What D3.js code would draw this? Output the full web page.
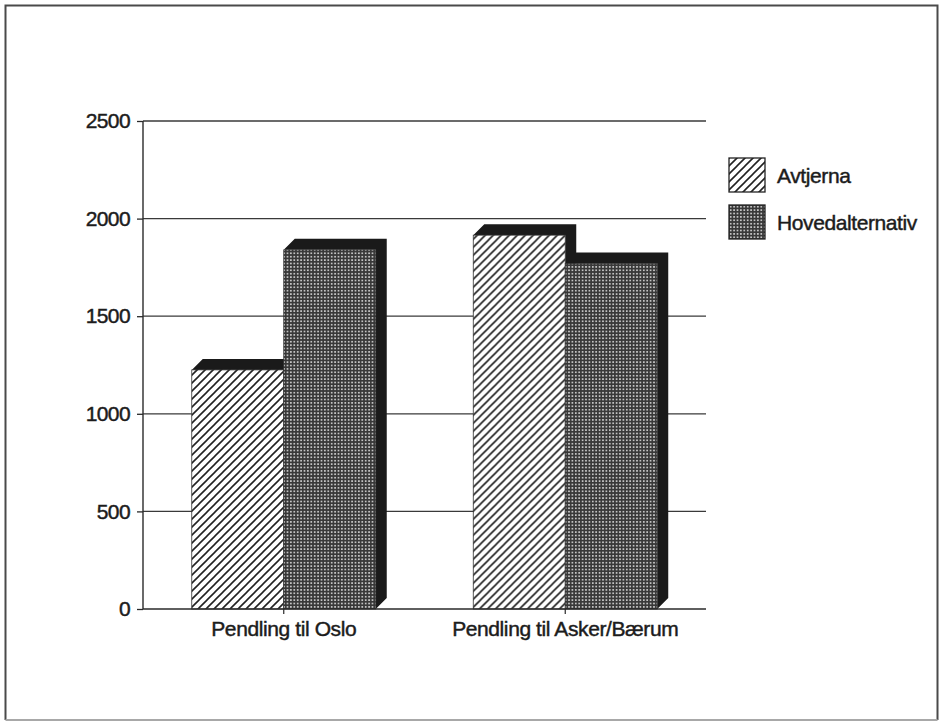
<!DOCTYPE html>
<html>
<head>
<meta charset="utf-8">
<script src="https://cdn.jsdelivr.net/npm/d3@7"></script>
<style>
  html, body { margin: 0; padding: 0; background: #fff; }
  svg { display: block; }
  text { font-family: "Liberation Sans", Arial, Helvetica, sans-serif; fill: #1c1c1c; stroke: #1c1c1c; stroke-width: 0.45px; }
</style>
</head>
<body>
<svg id="chart" width="939" height="724"></svg>
<script>
// Commuting volumes for two planning alternatives
const categories = ["Pendling til Oslo", "Pendling til Asker/Bærum"];
const seriesNames = ["Avtjerna", "Hovedalternativ"];
const avtjerna = [1225, 1915];
const hovedalternativ = [1840, 1770];
const yTicks = [0, 500, 1000, 1500, 2000, 2500];

const seriesValues = [avtjerna, hovedalternativ];

const svg = d3.select("#chart");
const W = 939, H = 724;

const plot = { left: 143, right: 706, top: 121, bottom: 609 };
const depth = 11;      // 3D shadow offset
const ink = "#1a1a1a";
const fontSize = 21;

// Patterns: diagonal hatch and fine halftone dots
const defs = svg.append("defs");
const hatch = defs.append("pattern")
  .attr("id", "hatch").attr("patternUnits", "userSpaceOnUse")
  .attr("width", 8).attr("height", 8);
hatch.append("rect").attr("width", 8).attr("height", 8).attr("fill", "#fff");
hatch.append("path")
  .attr("d", "M-2,2 L2,-2 M0,8 L8,0 M6,10 L10,6")
  .attr("stroke", "#222").attr("stroke-width", 1.6);

const dots = defs.append("pattern")
  .attr("id", "dots").attr("patternUnits", "userSpaceOnUse")
  .attr("width", 3.4).attr("height", 3.4);
dots.append("rect").attr("width", 3.4).attr("height", 3.4).attr("fill", "#383838");
dots.append("circle").attr("cx", 1.7).attr("cy", 1.7).attr("r", 0.95).attr("fill", "#e2e2e2");

const fills = ["url(#hatch)", "url(#dots)"];

// Outer frame
svg.append("path")
  .attr("d", `M5.5,${H - 4} V5.5 H${W - 1.5} V${H - 4}`)
  .attr("fill", "none").attr("stroke", "#4a4a4a").attr("stroke-width", 2);
svg.append("line")
  .attr("x1", 5.5).attr("x2", W - 1.5).attr("y1", H - 4).attr("y2", H - 4)
  .attr("stroke", "#a8a8a8").attr("stroke-width", 2);

// Scales
const x0 = d3.scaleBand().domain(categories).range([plot.left, plot.right]).padding(0);
const x1 = d3.scaleBand().domain(seriesNames).range([0, x0.bandwidth()])
  .paddingInner(0).paddingOuter(0.53);
const y = d3.scaleLinear().domain([0, 2500]).range([plot.bottom, plot.top]);

// Gridlines
svg.append("g").selectAll("line").data(yTicks.filter(d => d > 0)).join("line")
  .attr("x1", plot.left).attr("x2", plot.right)
  .attr("y1", d => y(d)).attr("y2", d => y(d))
  .attr("stroke", "#3a3a3a").attr("stroke-width", 1.3);

// Y axis
const yAxis = svg.append("g").attr("transform", `translate(${plot.left},0)`)
  .call(d3.axisLeft(y).tickValues(yTicks).tickSize(6).tickPadding(7).tickFormat(d3.format("d")));
yAxis.select(".domain").attr("stroke", "#2a2a2a").attr("stroke-width", 1.4).attr("d", `M0,${plot.top}V${plot.bottom}`);
yAxis.selectAll(".tick line").attr("stroke", "#2a2a2a").attr("stroke-width", 1.3);
yAxis.selectAll(".tick text")
  .attr("font-size", fontSize).attr("fill", "#1c1c1c").style("letter-spacing", "-0.6px")
  .attr("font-family", "Liberation Sans, Arial, sans-serif");

// Bars with 3D shadow
const groups = svg.append("g").selectAll("g").data(categories).join("g")
  .attr("transform", d => `translate(${x0(d)},0)`);

groups.each(function(cat, ci) {
  const g = d3.select(this);
  seriesNames.forEach((s, si) => {
    const v = seriesValues[si][ci];
    const xa = x1(s), xb = x1(s) + x1.bandwidth();
    const yt = y(v), yb = y(0);
    g.append("path")
      .attr("d", `M${xa},${yt} L${xa + depth},${yt - depth} L${xb + depth},${yt - depth} L${xb + depth},${yb - depth} L${xb},${yb} L${xb},${yt} Z`)
      .attr("fill", ink);
    g.append("rect")
      .attr("x", xa).attr("y", yt).attr("width", xb - xa).attr("height", yb - yt)
      .attr("fill", fills[si]).attr("stroke", "#333").attr("stroke-width", 0.8);
  });
});

// X axis line and category ticks
svg.append("line")
  .attr("x1", plot.left).attr("x2", plot.right).attr("y1", plot.bottom).attr("y2", plot.bottom)
  .attr("stroke", "#2a2a2a").attr("stroke-width", 1.4);
svg.append("g").selectAll("line").data(categories).join("line")
  .attr("x1", d => x0(d) + x0.bandwidth() / 2).attr("x2", d => x0(d) + x0.bandwidth() / 2)
  .attr("y1", plot.bottom).attr("y2", plot.bottom + 5)
  .attr("stroke", "#2a2a2a").attr("stroke-width", 1.2);
svg.append("g").selectAll("text").data(categories).join("text")
  .attr("x", d => x0(d) + x0.bandwidth() / 2).attr("y", plot.bottom + 20)
  .attr("dy", "0.35em").attr("text-anchor", "middle")
  .attr("font-size", fontSize).style("letter-spacing", "-0.4px")
  .text(d => d);

// Legend
const legend = svg.append("g").attr("transform", "translate(729,158)");
seriesNames.forEach((s, i) => {
  const row = legend.append("g").attr("transform", `translate(0,${i * 47})`);
  row.append("rect").attr("width", 36).attr("height", 34)
    .attr("fill", fills[i]).attr("stroke", "#222").attr("stroke-width", 1.3);
  row.append("text").attr("x", 48).attr("y", 18).attr("dy", "0.35em")
    .attr("font-size", fontSize).style("letter-spacing", "-0.4px").text(s);
});
</script>
</body>
</html>
